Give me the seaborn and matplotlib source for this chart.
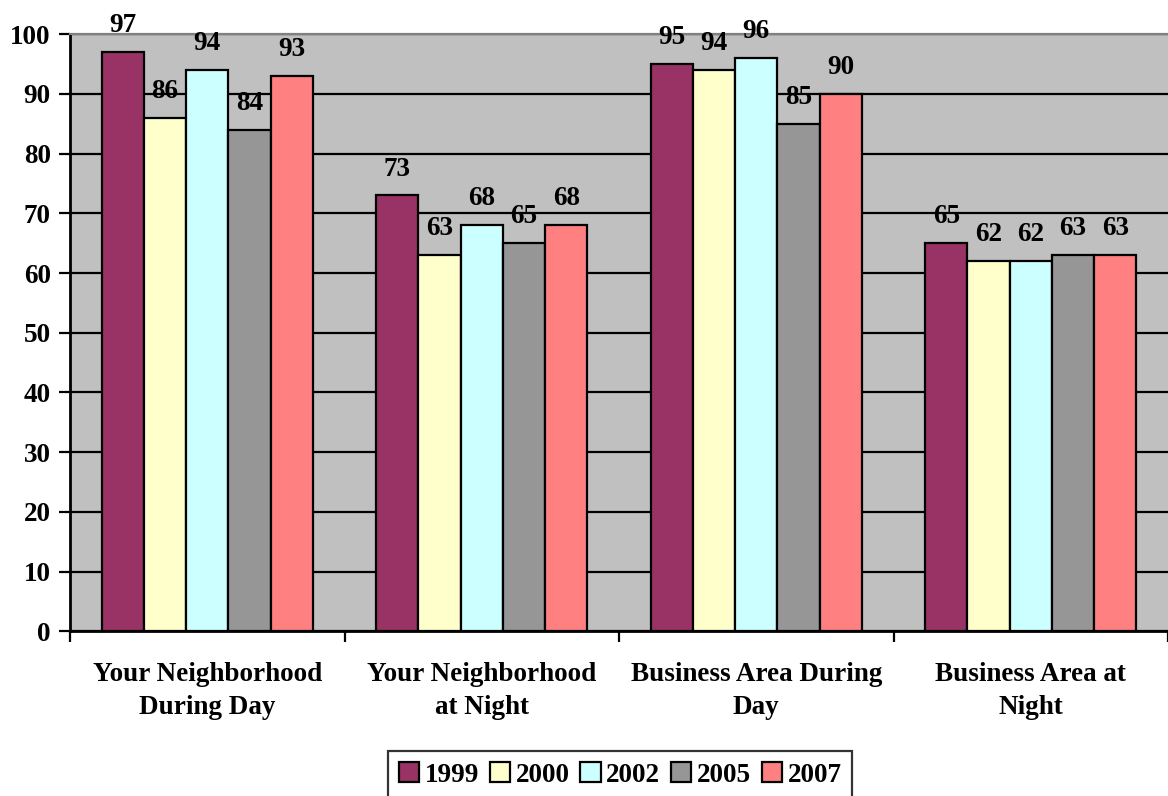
import matplotlib
matplotlib.use("Agg")
import matplotlib.pyplot as plt
import seaborn as sns
import pandas as pd

categories = ["Your Neighborhood\nDuring Day", "Your Neighborhood\nat Night",
              "Business Area During\nDay", "Business Area at\nNight"]
years = ["1999", "2000", "2002", "2005", "2007"]
v1999 = [97, 73, 95, 65]
v2000 = [86, 63, 94, 62]
v2002 = [94, 68, 96, 62]
v2005 = [84, 65, 85, 63]
v2007 = [93, 68, 90, 63]
colors = ["#993366", "#FFFFCC", "#CCFFFF", "#969696", "#FF8080"]

series = [v1999, v2000, v2002, v2005, v2007]
rows = []
for yr, vals in zip(years, series):
    for cat, v in zip(categories, vals):
        rows.append({"category": cat, "year": yr, "value": v})
df = pd.DataFrame(rows)

sns.set_style("white")
plt.rcParams["font.family"] = ["Liberation Serif", "DejaVu Serif"]
plt.rcParams["font.weight"] = "bold"
plt.rcParams["text.color"] = "black"
plt.rcParams["xtick.color"] = "black"
plt.rcParams["ytick.color"] = "black"
plt.rcParams["xtick.labelcolor"] = "black"
plt.rcParams["ytick.labelcolor"] = "black"

FS = 19.5

fig = plt.figure(figsize=(11.68, 7.96), dpi=100)
ax = fig.add_axes([0.06, 0.207, 0.94, 0.75])
ax.set_facecolor("#C0C0C0")

sns.barplot(data=df, x="category", y="value", hue="year", order=categories,
            hue_order=years, palette=colors, width=0.77, saturation=1,
            edgecolor="black", linewidth=1.6, ax=ax, zorder=3)

for cont in ax.containers:
    ax.bar_label(cont, fmt="%d", padding=10, fontsize=FS, fontweight="bold",
                 color="black", zorder=4)

ax.set_ylim(0, 100)
ax.set_xlim(-0.5, 3.5)
ax.set_yticks(range(0, 101, 10))
ax.yaxis.grid(True, color="black", linewidth=1.6, zorder=0)
ax.set_axisbelow(True)
ax.tick_params(axis="y", direction="out", length=8, width=1.6, labelsize=FS, pad=6, left=True)
for lab in ax.get_yticklabels():
    lab.set_fontweight("bold")

# group boundary ticks and centred category labels
ax.set_xticks([-0.5, 0.5, 1.5, 2.5, 3.5])
ax.set_xticklabels([])
ax.tick_params(axis="x", which="major", direction="out", length=8, width=1.6, bottom=True)
ax.set_xticks([0, 1, 2, 3], minor=True)
ax.set_xticklabels(categories, minor=True, fontsize=FS, fontweight="bold", linespacing=1.45)
ax.tick_params(axis="x", which="minor", length=0, pad=22)

ax.set_xlabel("")
ax.set_ylabel("")
for side in ["left", "bottom"]:
    ax.spines[side].set_color("black")
    ax.spines[side].set_linewidth(2)
ax.spines["top"].set_visible(True)
ax.spines["top"].set_color("#808080")
ax.spines["top"].set_linewidth(1.6)
ax.spines["right"].set_visible(False)

handles, labels = ax.get_legend_handles_labels()
ax.get_legend().remove()
leg = fig.legend(handles, labels, loc="lower center", bbox_to_anchor=(0.531, -0.02),
                 ncol=5, frameon=True, fancybox=False, edgecolor="black",
                 prop={"size": FS, "weight": "bold"}, handlelength=0.75, handleheight=0.75,
                 handletextpad=0.2, columnspacing=0.4, borderpad=0.4)
leg.get_frame().set_linewidth(1.6)

fig.savefig("out.png", dpi=100)
